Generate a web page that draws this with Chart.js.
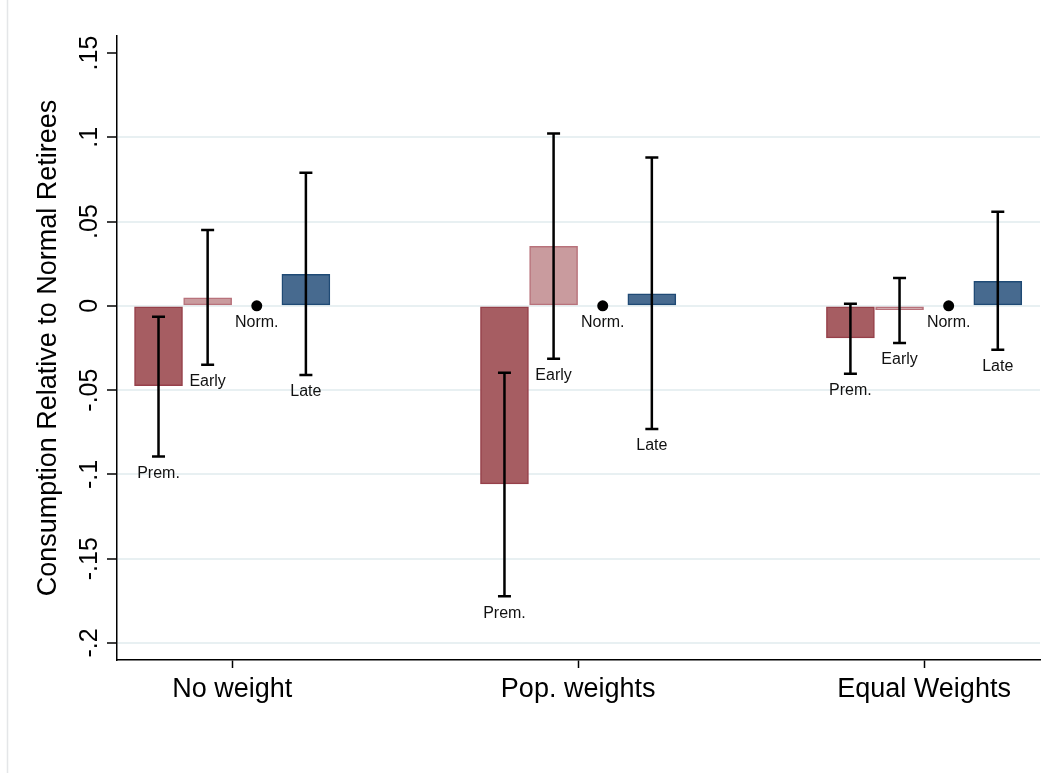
<!DOCTYPE html>
<html>
<head>
<meta charset="utf-8">
<script src="https://cdn.jsdelivr.net/npm/chart.js@4/dist/chart.umd.min.js"></script>
<style>
  html, body { margin: 0; padding: 0; background: #fff; }
  #wrap { width: 1052px; height: 773px; }
</style>
</head>
<body>
<div id="wrap"><canvas id="grafico" width="1052" height="773"></canvas></div>
<script>
// ---- data ----
const groupLabels = ["No weight", "Pop. weights", "Equal Weights"];
const seriesNames = ["Prem.", "Early", "Norm.", "Late"];
const seriesOffsets = [-0.213, -0.071, 0.071, 0.213];

const premEst = [-0.0474, -0.1056, -0.0190];
const premLo = [-0.0893, -0.1723, -0.0403];
const premHi = [-0.0065, -0.0397, 0.0012];

const earlyEst = [0.0047, 0.0353, -0.0022];
const earlyLo = [-0.0350, -0.0314, -0.0220];
const earlyHi = [0.0450, 0.1023, 0.0166];

const normEst = [0, 0, 0];

const lateEst = [0.0187, 0.0071, 0.0145];
const lateLo = [-0.0410, -0.0730, -0.0260];
const lateHi = [0.0790, 0.0880, 0.0558];

const yTicks = [-0.2, -0.15, -0.1, -0.05, 0, 0.05, 0.1, 0.15];
const yTickLabels = ["-.2", "-.15", "-.1", "-.05", "0", ".05", ".1", ".15"];
const yTitle = "Consumption Relative to Normal Retirees";

const FONT = '"Liberation Sans", Arial, Helvetica, sans-serif';

function pontos(valores, s) {
  return valores.map((v, i) => ({ x: i + 1 + seriesOffsets[s], y: v }));
}

// error bars + marker labels
const barrasErro = {
  id: "barrasErro",
  afterDatasetsDraw(chart) {
    const ctx = chart.ctx;
    const xs = chart.scales.x, ys = chart.scales.y;
    const series = [
      { s: 0, lo: premLo, hi: premHi },
      { s: 1, lo: earlyLo, hi: earlyHi },
      { s: 3, lo: lateLo, hi: lateHi },
    ];
    ctx.save();
    ctx.strokeStyle = "#000";
    ctx.lineWidth = 2.5;
    series.forEach((ser) => {
      groupLabels.forEach((_, i) => {
        const x = xs.getPixelForValue(i + 1 + seriesOffsets[ser.s]);
        const y1 = ys.getPixelForValue(ser.lo[i]);
        const y2 = ys.getPixelForValue(ser.hi[i]);
        ctx.beginPath();
        ctx.moveTo(x, y1); ctx.lineTo(x, y2);
        ctx.moveTo(x - 6.5, y1); ctx.lineTo(x + 6.5, y1);
        ctx.moveTo(x - 6.5, y2); ctx.lineTo(x + 6.5, y2);
        ctx.stroke();
      });
    });
    // labels under lower end
    ctx.fillStyle = "#111";
    ctx.font = "16px " + FONT;
    ctx.textAlign = "center";
    ctx.textBaseline = "middle";
    const baixo = [premLo, earlyLo, normEst, lateLo];
    baixo.forEach((arr, s) => {
      arr.forEach((v, i) => {
        const x = xs.getPixelForValue(i + 1 + seriesOffsets[s]);
        const y = ys.getPixelForValue(v) + 17;
        ctx.fillText(seriesNames[s], x, y);
      });
    });
    ctx.restore();
  },
  afterDraw(chart) {
    const ctx = chart.ctx;
    const ys = chart.scales.y;
    ctx.save();
    ctx.fillStyle = "#000";
    ctx.font = "25px " + FONT;
    ctx.textAlign = "center";
    ctx.textBaseline = "middle";
    yTicks.forEach((v, i) => {
      ctx.save();
      ctx.translate(90, ys.getPixelForValue(v));
      ctx.rotate(-Math.PI / 2);
      ctx.fillText(yTickLabels[i], 0, 0);
      ctx.restore();
    });
    ctx.font = "27px " + FONT;
    ctx.translate(49, (chart.chartArea.top + chart.chartArea.bottom) / 2);
    ctx.rotate(-Math.PI / 2);
    ctx.fillText(yTitle, 0, 0);
    ctx.restore();
  },
  beforeDraw(chart) {
    const ctx = chart.ctx;
    ctx.save();
    ctx.fillStyle = "#fff";
    ctx.fillRect(0, 0, chart.width, chart.height);
    ctx.strokeStyle = "#e4e6e8";
    ctx.lineWidth = 1.5;
    ctx.beginPath();
    ctx.moveTo(7.5, 0); ctx.lineTo(7.5, chart.height);
    ctx.stroke();
    ctx.restore();
  },
};

new Chart(document.getElementById("grafico"), {
  type: "bar",
  data: {
    datasets: [
      {
        label: seriesNames[0],
        data: pontos(premEst, 0),
        backgroundColor: "#a65d62",
        borderColor: "#96404a",
        borderWidth: 1.5,
        borderSkipped: false,
        barThickness: 48,
        grouped: false,
      },
      {
        label: seriesNames[1],
        data: pontos(earlyEst, 1),
        backgroundColor: "#c99b9e",
        borderColor: "#b8727b",
        borderWidth: 1.5,
        borderSkipped: false,
        barThickness: 48,
        grouped: false,
      },
      {
        type: "line",
        label: seriesNames[2],
        data: pontos(normEst, 2),
        showLine: false,
        pointRadius: 5.5,
        pointBackgroundColor: "#000",
        pointBorderWidth: 0,
      },
      {
        label: seriesNames[3],
        data: pontos(lateEst, 3),
        backgroundColor: "#476a8f",
        borderColor: "#1f4a75",
        borderWidth: 1.5,
        borderSkipped: false,
        barThickness: 48,
        grouped: false,
      },
    ],
  },
  options: {
    responsive: false,
    animation: false,
    layout: { padding: { top: 36, right: 12, left: 0, bottom: 0 } },
    plugins: { legend: { display: false }, tooltip: { enabled: false } },
    scales: {
      x: {
        type: "linear",
        offset: false,
        min: 0.667,
        max: 3.335,
        afterBuildTicks: (scale) => {
          scale.ticks = groupLabels.map((_, i) => ({ value: i + 1 }));
        },
        afterFit: (scale) => { scale.height = 113; },
        ticks: {
          callback: (value, index) => groupLabels[index],
          color: "#000",
          font: { family: FONT, size: 27 },
          padding: 5,
          maxRotation: 0,
          minRotation: 0,
        },
        grid: {
          display: true,
          offset: false,
          drawOnChartArea: false,
          tickLength: 8,
          tickColor: "#000",
          tickWidth: 1.5,
        },
        border: { color: "#000", width: 1.5 },
      },
      y: {
        type: "linear",
        min: -0.2101,
        max: 0.1601,
        afterBuildTicks: (scale) => {
          scale.ticks = yTicks.map((v) => ({ value: v }));
        },
        afterFit: (scale) => { scale.width = 117; },
        ticks: { display: false },
        grid: {
          color: (c) => (c.tick && c.tick.value === 0.15 ? "rgba(0,0,0,0)" : "#e8f0f2"),
          lineWidth: 2,
          tickLength: 10,
          tickColor: "#000",
          tickWidth: 1.5,
        },
        border: { color: "#000", width: 1.5 },
      },
    },
  },
  plugins: [barrasErro],
});
</script>
</body>
</html>
